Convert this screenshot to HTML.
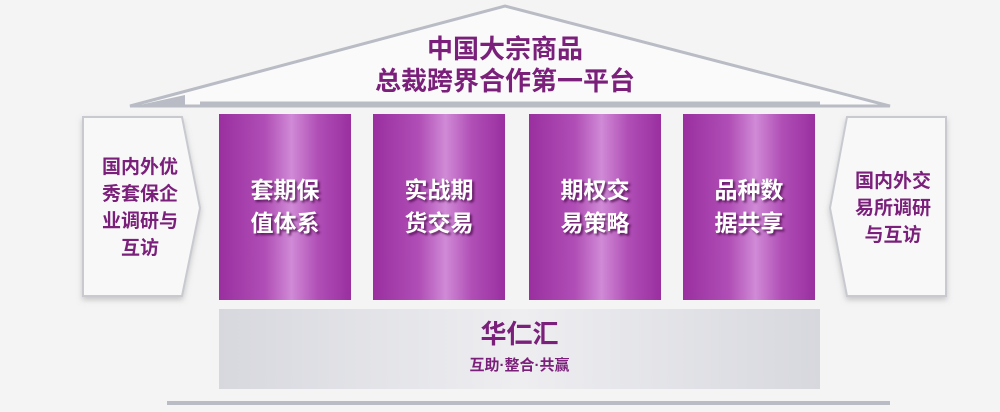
<!DOCTYPE html>
<html><head><meta charset="utf-8"><style>
body{margin:0;width:1000px;height:412px;background:#f4f4f5;position:relative;overflow:hidden;font-family:"Liberation Sans","Noto Sans CJK SC",sans-serif;}
.a{position:absolute}
.col{position:absolute;top:114px;height:186px;width:132px;background:linear-gradient(90deg,#9a2fa0 0%,#b04eb6 35%,#d08ad6 55%,#b04eb6 75%,#9a2fa0 100%);}
.col div{position:absolute;left:0;right:0;top:60px;text-align:center;color:#fff;font-weight:bold;font-size:23px;line-height:33px;text-shadow:2px 2px 2px rgba(60,0,60,.7);}
.side{color:#7a1f7a;font-weight:bold;font-size:19px;line-height:27px;text-align:center;position:absolute}
</style></head><body>
<svg class="a" style="left:0;top:0" width="1000" height="412">
<defs><filter id="sh"><feDropShadow dx="0" dy="3" stdDeviation="3" flood-color="#999" flood-opacity=".5"/></filter></defs>
<polygon points="130,106 505,6 890,106" fill="#fafafa" stroke="#b9bcc4" stroke-width="3"/>
<polygon points="135,106 185,95 185,106" fill="#b9bcc4"/>
<line x1="200" y1="103" x2="820" y2="103" stroke="#b9bcc4" stroke-width="3"/>
<polygon points="83,117 182,117 200,208 182,296 83,296" fill="#f8f8f9" stroke="#c8cad0" stroke-width="2" filter="url(#sh)"/>
<polygon points="946,117 847,117 830,208 847,296 946,296" fill="#f8f8f9" stroke="#c8cad0" stroke-width="2" filter="url(#sh)"/>
<defs><linearGradient id="b" x1="0" x2="1"><stop offset="0" stop-color="#d7d8de"/><stop offset=".5" stop-color="#eeeef1"/><stop offset="1" stop-color="#d7d8de"/></linearGradient></defs>
<rect x="219" y="309" width="601" height="80" fill="url(#b)"/>
<line x1="167" y1="403" x2="890" y2="403" stroke="#b9bcc4" stroke-width="4"/>
</svg>
<div class="a" style="left:0;width:1010px;top:33px;text-align:center;color:#7a1f7a;font-weight:bold;font-size:26px;line-height:32px">中国大宗商品<br>总裁跨界合作第一平台</div>
<div class="col" style="left:219px"><div>套期保<br>值体系</div></div>
<div class="col" style="left:373px"><div>实战期<br>货交易</div></div>
<div class="col" style="left:529px"><div>期权交<br>易策略</div></div>
<div class="col" style="left:683px"><div>品种数<br>据共享</div></div>
<div class="side" style="left:88px;width:104px;top:154px">国内外优<br>秀套保企<br>业调研与<br>互访</div>
<div class="side" style="left:841px;width:104px;top:168px">国内外交<br>易所调研<br>与互访</div>
<div class="a" style="left:219px;width:601px;top:318px;text-align:center;color:#7a1f7a;font-weight:bold;font-size:26px;line-height:32px">华仁汇</div>
<div class="a" style="left:219px;width:601px;top:356px;text-align:center;color:#7a1f7a;font-weight:bold;font-size:15px;line-height:20px">互助·整合·共赢</div>
</body></html>
